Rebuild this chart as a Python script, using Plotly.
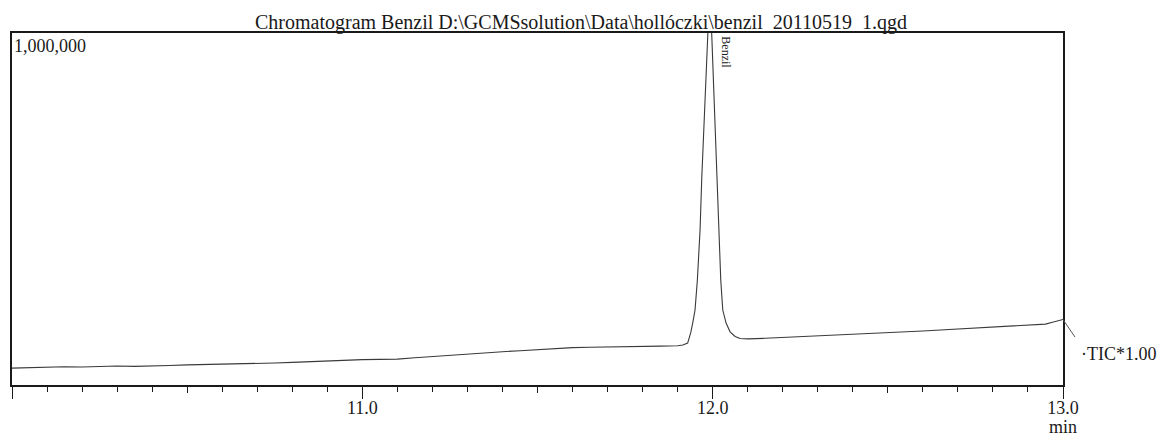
import plotly.graph_objects as go

# ---------------- data ----------------
time_min = [
    10.00, 10.05, 10.10, 10.15, 10.20, 10.25, 10.30, 10.35, 10.40, 10.45,
    10.50, 10.55, 10.60, 10.65, 10.70, 10.75, 10.80, 10.85, 10.90, 10.95,
    11.00, 11.05, 11.10, 11.15, 11.20, 11.25, 11.30, 11.35, 11.40, 11.45,
    11.50, 11.55, 11.60, 11.65, 11.70, 11.75, 11.80, 11.85, 11.90, 11.915,
    11.9286, 11.9372, 11.943, 11.9497, 11.9563, 11.964, 11.9689, 11.9763,
    11.9849, 11.9914, 11.9974, 12.0049, 12.0134, 12.0191, 12.0231, 12.0288,
    12.0383, 12.0497, 12.064, 12.0782,
    12.10, 12.15, 12.20, 12.25, 12.30, 12.35, 12.40, 12.45, 12.50, 12.55,
    12.60, 12.65, 12.70, 12.75, 12.80, 12.85, 12.90, 12.95, 12.97, 12.985,
    13.00,
]
tic_k = [
    48.0, 49.5, 50.3, 51.8, 51.2, 52.6, 53.8, 52.9, 53.4, 55.6,
    57.3, 57.9, 58.6, 59.8, 60.3, 62.4, 64.2, 66.5, 68.8, 70.9,
    72.2, 72.8, 73.6, 77.5, 81.2, 84.6, 88.1, 91.0, 94.6, 97.5,
    100.8, 104.2, 106.1, 107.4, 108.6, 109.2, 110.0, 110.4, 111.3, 113.5,
    119.0, 148.0, 176.0, 213.0, 298.0, 440.0, 588.0, 795.0,
    994.0, 1120.0, 994.0, 795.0, 588.0, 440.0, 298.0, 213.0,
    176.0, 151.0, 138.0, 132.0,
    131.0, 132.6, 134.8, 136.9, 138.7, 141.2, 143.4, 146.5, 148.8, 151.0,
    153.6, 156.2, 158.9, 162.0, 165.4, 167.9, 170.3, 173.0, 178.5, 182.5,
    186.0,
]
intensity = [v * 1000 for v in tic_k]

x_range = [10.0, 13.0]
y_range = [0, 1000000]
major_ticks = [10.0, 11.0, 12.0, 13.0]
major_labels = ["", "11.0", "12.0", "13.0"]
half_ticks = [10.5, 11.5, 12.5]
minor_step = 0.1

title_text = "Chromatogram Benzil D:\\GCMSsolution\\Data\\hollóczki\\benzil_20110519_1.qgd"
peak_name = "Benzil"
peak_time = 11.9914
trace_label = "·TIC*1.00"
y_top_label = "1,000,000"
x_unit = "min"

FONT = "Liberation Serif"
INK = "#1a1a1a"

fig = go.Figure()
fig.add_trace(go.Scatter(
    x=time_min, y=intensity, mode="lines",
    line=dict(color="#3a3a3a", width=1.1),
    showlegend=False, hoverinfo="skip",
))
# dummy trace so the overlay axis (half-minute ticks) is drawn
fig.add_trace(go.Scatter(x=[None], y=[None], xaxis="x2", showlegend=False,
                         hoverinfo="skip"))

fig.update_layout(
    width=1162, height=436,
    margin=dict(l=12, r=99, t=33, b=51),
    paper_bgcolor="white", plot_bgcolor="white",
    font=dict(family=FONT, size=18, color=INK),
    title=dict(
        text=title_text, x=0.5, xref="container", xanchor="center",
        y=(436 - 29) / 436, yref="container", yanchor="bottom",
        font=dict(family=FONT, size=20, color=INK),
    ),
    xaxis=dict(
        range=x_range, showgrid=False, zeroline=False,
        showline=True, mirror=True, linecolor=INK, linewidth=1.6,
        ticks="outside", tickvals=major_ticks, ticktext=major_labels,
        ticklen=12, tickwidth=1.4, tickcolor=INK,
        ticklabelstandoff=-6,
        tickfont=dict(family=FONT, size=18, color=INK),
        minor=dict(ticks="outside", dtick=minor_step, tick0=x_range[0],
                   ticklen=5, tickwidth=1.2, tickcolor=INK),
    ),
    xaxis2=dict(
        range=x_range, overlaying="x", anchor="y", side="bottom",
        showgrid=False, zeroline=False, showline=False,
        ticks="outside", tickvals=half_ticks, ticklen=7, tickwidth=1.2,
        tickcolor=INK, showticklabels=False,
    ),
    yaxis=dict(
        range=y_range, showgrid=False, zeroline=False,
        showline=True, mirror=True, linecolor=INK, linewidth=1.6,
        ticks="", showticklabels=False,
    ),
)

fig.add_annotation(text=y_top_label, xref="paper", yref="paper", x=0, y=1,
                   xanchor="left", yanchor="top", showarrow=False,
                   xshift=0, yshift=-1,
                   font=dict(family=FONT, size=18, color=INK))
fig.add_annotation(text=peak_name, xref="x", yref="paper", x=peak_time, y=1,
                   xanchor="center", yanchor="top", textangle=90,
                   showarrow=False, xshift=16, yshift=-1,
                   font=dict(family=FONT, size=12, color=INK))
# leader line from end of trace
fig.add_annotation(text="", xref="x", yref="y", x=time_min[-1], y=intensity[-1],
                   showarrow=True, arrowhead=0, arrowwidth=1, arrowcolor="#555",
                   ax=13, ay=19)
fig.add_annotation(text=trace_label, xref="x", yref="y", x=time_min[-1],
                   y=intensity[-1], xanchor="left", yanchor="middle",
                   showarrow=False, xshift=16, yshift=-34,
                   font=dict(family=FONT, size=18, color=INK))
fig.add_annotation(text=x_unit, xref="x", yref="paper", x=x_range[1], y=0,
                   xanchor="center", yanchor="top", showarrow=False,
                   yshift=-30, font=dict(family=FONT, size=18, color=INK))

fig.write_html("out.html")
